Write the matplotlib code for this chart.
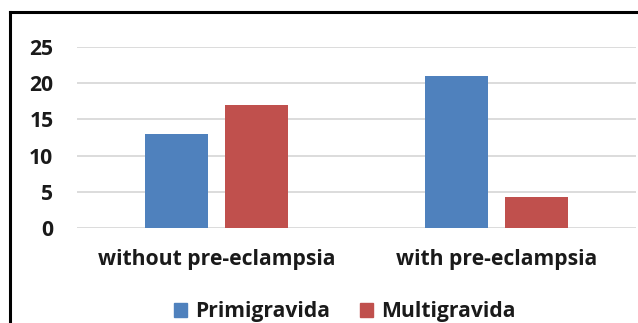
import matplotlib
matplotlib.use("Agg")
from matplotlib import pyplot as plt
from matplotlib.lines import Line2D
from matplotlib.patches import Patch
import numpy as np

# data
categories = ["without pre-eclampsia", "with pre-eclampsia"]
primigravida = [13, 21]
multigravida = [17, 4.3]
yticks = [0, 5, 10, 15, 20, 25]

blue = "#4f81bd"
red = "#c0504d"
txt = "#1a1a1a"
font = "Open Sans"
fs = 15.2

W, H = 638, 323
fig = plt.figure(figsize=(W / 100, H / 100), dpi=100)
ax = fig.add_axes([77 / W, (H - 228) / H, 559 / W, 181 / H])

x = np.arange(len(categories))
bw = 0.225
gap = 0.06
ax.bar(x - (bw + gap) / 2, primigravida, bw, color=blue, zorder=3)
ax.bar(x + (bw + gap) / 2, multigravida, bw, color=red, zorder=3)

ax.set_xlim(-0.5, 1.5)
ax.set_ylim(0, 25)
ax.set_yticks(yticks)
ax.set_yticklabels([str(v) for v in yticks], fontsize=fs, fontweight="bold",
                   family=font, color=txt)
ax.set_xticks(x)
ax.set_xticklabels(categories, fontsize=fs, fontweight="bold",
                   family=font, color=txt)
ax.tick_params(axis="y", length=0, pad=17)
ax.tick_params(axis="x", length=0, pad=15)
ax.yaxis.grid(True, color="#d9d9d9", lw=1.3, zorder=0)
for s in ax.spines.values():
    s.set_visible(False)

# outer frame (left and top edges visible)
fig.add_artist(Line2D([10 / W, 10 / W], [0, (H - 12) / H], color="black", lw=2.2))
fig.add_artist(Line2D([10 / W, 1], [(H - 12) / H, (H - 12) / H], color="black", lw=2.2))

handles = [Patch(color=blue, label="Primigravida"),
           Patch(color=red, label="Multigravida")]
fig.legend(handles=handles, loc="center", bbox_to_anchor=(345 / W, (H - 312) / H),
           ncol=2, frameon=False, handlelength=0.6, handleheight=0.6,
           handletextpad=0.4, columnspacing=1.4,
           prop={"family": font, "weight": "bold", "size": fs}, labelcolor=txt)

fig.savefig("out.png", dpi=100)
